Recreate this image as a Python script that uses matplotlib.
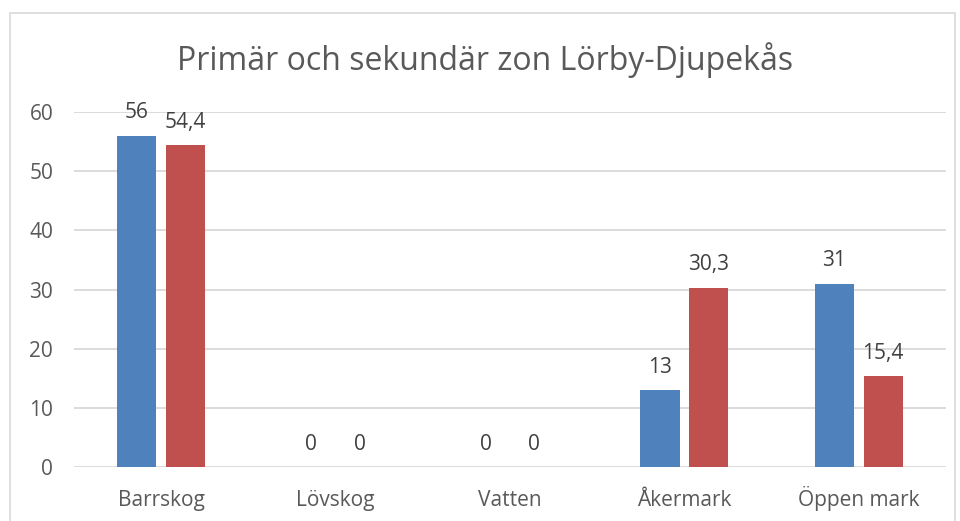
import matplotlib.pyplot as plt
from matplotlib.patches import Rectangle
import numpy as np

categories = ['Barrskog', 'Lövskog', 'Vatten', 'Åkermark', 'Öppen mark']
primar = [56, 0, 0, 13, 31]
sekundar = [54.4, 0, 0, 30.3, 15.4]
title = 'Primär och sekundär zon Lörby-Djupekås'

plt.rcParams['font.family'] = ['Open Sans', 'DejaVu Sans']
textcol = '#595959'

fig = plt.figure(figsize=(9.6, 5.21), dpi=100)
ax = fig.add_axes([74/960, 1-467/521, 872/960, 355/521])

# chart frame
fig.patches.append(Rectangle((10/960, -0.05), 945/960, 1.05 - 13/521,
                             transform=fig.transFigure, fill=False,
                             edgecolor='#D9D9D9', linewidth=1.2))

x = np.arange(len(categories))
w = 0.224
b1 = ax.bar(x - 0.14, primar, w, color='#4F81BD', zorder=3)
b2 = ax.bar(x + 0.14, sekundar, w, color='#C0504D', zorder=3)

def fmt(v):
    s = ('%g' % v).replace('.', ',')
    return s

for bars, vals in [(b1, primar), (b2, sekundar)]:
    for r, v in zip(bars, vals):
        ax.annotate(fmt(v), (r.get_x() + r.get_width()/2, v),
                    xytext=(0, 12.5), textcoords='offset points',
                    ha='center', va='baseline', fontsize=15, color='#404040')

ax.set_xlim(-0.5, len(categories) - 0.5)
ax.set_ylim(0, 60)
ax.set_yticks(range(0, 61, 10))
ax.set_xticks(x)
ax.set_xticklabels(categories)
ax.tick_params(axis='both', length=0, labelsize=15, labelcolor=textcol)
ax.tick_params(axis='y', pad=15)
ax.tick_params(axis='x', pad=28)
for lab in ax.get_xticklabels():
    lab.set_va('baseline')
ax.grid(axis='y', color='#D9D9D9', linewidth=1.3, zorder=0)
for s in ax.spines.values():
    s.set_visible(False)

fig.text(485/960, 1-60/521, title, ha='center', va='center',
         fontsize=23, color=textcol)

fig.savefig('out.png', dpi=100)
